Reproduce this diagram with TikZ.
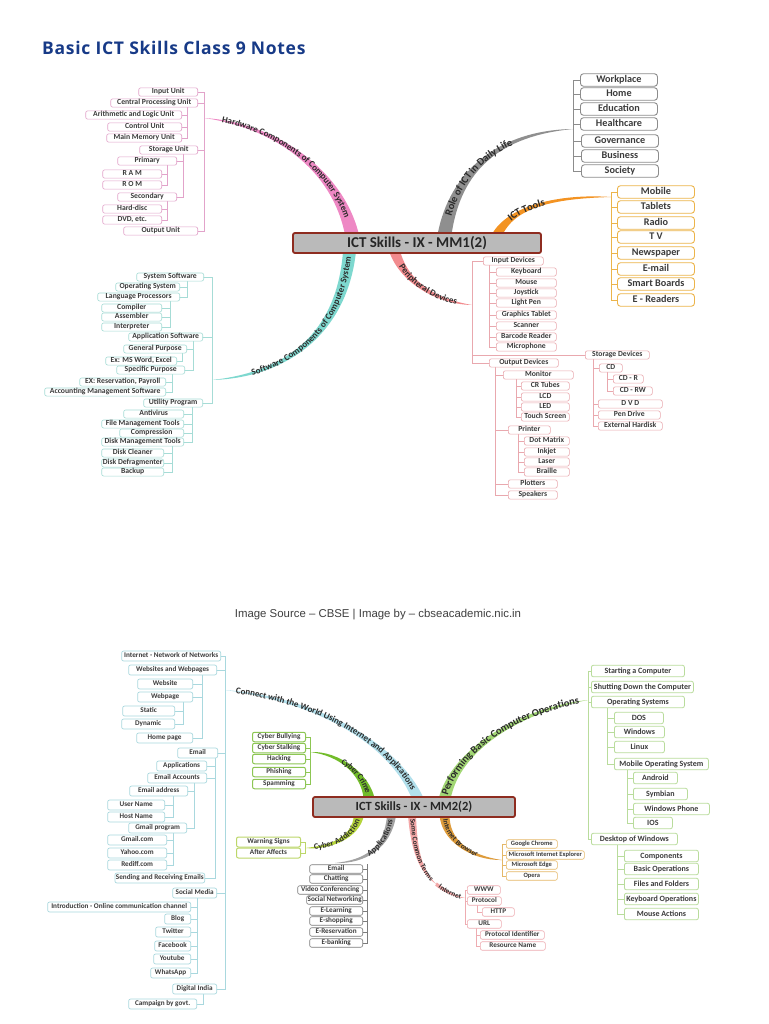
\documentclass[tikz,border=0pt]{standalone}
\usepackage{fontspec}
\setmainfont{Carlito}
\newfontfamily\headfont[LetterSpace=4]{Open Sans}
\newfontfamily\notefont{Liberation Sans}
\usetikzlibrary{calc, backgrounds, decorations.text}
\definecolor{hwpink}{HTML}{EE88C4}
\definecolor{hwline}{HTML}{E2A3CA}
\definecolor{swteal}{HTML}{7ED8CF}
\definecolor{swline}{HTML}{A6DCD6}
\definecolor{rolegray}{HTML}{8F8F8F}
\definecolor{roleline}{HTML}{8C8C8C}
\definecolor{toolorange}{HTML}{F39322}
\definecolor{toolline}{HTML}{ECB44A}
\definecolor{pdsalmon}{HTML}{F28B8E}
\definecolor{pdline}{HTML}{E9A8AE}
\definecolor{centerfill}{HTML}{BABABA}
\definecolor{centerdraw}{HTML}{8E2C20}
\definecolor{titleblue}{HTML}{173A87}
\definecolor{notegray}{HTML}{3F3F3F}
\definecolor{textmain}{HTML}{3B3B3B}
\definecolor{lbltext}{HTML}{2B2B2B}
\definecolor{cwblue}{HTML}{B2E0EC}
\definecolor{webline}{HTML}{A9D8DE}
\definecolor{crimegreen}{HTML}{72BC2A}
\definecolor{crimeline}{HTML}{8DC653}
\definecolor{opsgreen}{HTML}{A2D774}
\definecolor{opsline}{HTML}{B9DC9C}
\definecolor{addgreen}{HTML}{B4D43A}
\definecolor{addline}{HTML}{BCD769}
\definecolor{appgray}{HTML}{A3A3A3}
\definecolor{appline}{HTML}{7C7C7C}
\definecolor{termpink}{HTML}{F3A7A7}
\definecolor{termline}{HTML}{EEACB1}
\definecolor{broworange}{HTML}{DE9C3C}
\definecolor{browline}{HTML}{E5B867}
\newcommand{\boxfont}{\fontsize{7.7}{8}\selectfont\bfseries}
\newcommand{\listfont}{\fontsize{10.2}{11}\selectfont\bfseries}
\newcommand{\webfont}{\fontsize{7.2}{8}\selectfont\bfseries}
\newcommand{\opsfont}{\fontsize{8}{9}\selectfont\bfseries}
\newcommand{\browfont}{\fontsize{6.5}{7}\selectfont\bfseries}
\newcommand{\lblbig}{\fontsize{9}{10}\selectfont\bfseries\color{lbltext}}
\newcommand{\lblwide}{\fontsize{10.5}{11}\selectfont\bfseries\color{lbltext}}
\newcommand{\lblsmall}{\fontsize{8.3}{9}\selectfont\bfseries\color{lbltext}}
\newcommand{\lbltiny}{\fontsize{7.2}{8}\selectfont\bfseries\color{lbltext}}
\newcommand{\ribbon}[7]{%
  \fill[#1] ($(#2)+(#6)$) .. controls ($(#3)+0.8*(#6)$) and ($(#4)+(#7)$) .. (#5)
    .. controls ($(#4)-(#7)$) and ($(#3)-0.8*(#6)$) .. ($(#2)-(#6)$) -- cycle;}

\begin{document}
\begin{tikzpicture}[
    x=1pt, y=-1pt,
    box/.style={draw, fill=white, rounded corners=2pt, inner xsep=1pt, inner ysep=0.7pt,
                text height=5.2pt, text depth=1.5pt, minimum height=8.3pt, line width=0.6pt,
                text=textmain, font=\boxfont},
    hwbox/.style={box, draw=hwline, anchor=east, minimum width=59pt},
    swbox/.style={box, draw=swline, anchor=east, minimum height=8pt, minimum width=60pt},
    pdbox/.style={box, draw=pdline, anchor=west, minimum width=60pt},
    bigbox/.style={box, anchor=west, rounded corners=3pt, minimum width=77pt, minimum height=12.5pt,
                   text height=7pt, text depth=2pt, line width=0.9pt, font=\listfont},
    rolebox/.style={bigbox, draw=roleline},
    toolbox/.style={bigbox, draw=toolline},
    webbox/.style={box, draw=webline, anchor=east, minimum height=10pt, line width=0.7pt, font=\webfont},
    crimebox/.style={box, draw=crimeline, anchor=east, minimum height=9.5pt, minimum width=53pt,
                     line width=1pt, font=\webfont},
    addbox/.style={box, draw=addline, anchor=east, minimum height=10pt, minimum width=64pt,
                   line width=1pt, font=\webfont},
    appbox/.style={box, draw=appline, anchor=east, minimum height=8.5pt, minimum width=53pt, font=\webfont},
    termbox/.style={box, draw=termline, anchor=west, minimum height=8.5pt, font=\webfont},
    browbox/.style={box, draw=browline, anchor=west, minimum height=8.5pt, minimum width=51pt, font=\browfont},
    opsbox/.style={box, draw=opsline, anchor=west, minimum height=11.5pt, text height=5.8pt,
                   text depth=1.8pt, line width=0.8pt, font=\opsfont},
    centerbox/.style={draw=centerdraw, fill=centerfill, line width=1.8pt, rounded corners=2pt,
                      minimum height=20pt, text=black!85},
    hwlink/.style={draw=hwline, line width=0.7pt},
    swlink/.style={draw=swline, line width=0.7pt},
    pdlink/.style={draw=pdline, line width=0.7pt},
    rolelink/.style={draw=roleline, line width=0.7pt},
    toollink/.style={draw=toolline, line width=0.8pt},
    weblink/.style={draw=webline, line width=0.7pt},
    crimelink/.style={draw=crimeline, line width=0.8pt},
    addlink/.style={draw=addline, line width=0.8pt},
    applink/.style={draw=appline, line width=0.7pt},
    termlink/.style={draw=termline, line width=0.7pt},
    browlink/.style={draw=browline, line width=0.7pt},
    opslink/.style={draw=opsline, line width=0.7pt},
    lbl/.style n args={3}{decorate, decoration={text along path, text={#1}, text align={#2}, raise=#3}}
  ]
    \useasboundingbox (0,0) rectangle (768,1024);

    \node[anchor=west, inner sep=0pt, text=titleblue, font=\headfont\fontsize{17.5}{19}\selectfont\bfseries] (title) at (42,47.5) {Basic ICT Skills Class 9 Notes};
    \node[centerbox, minimum width=248pt, font=\fontsize{15}{16}\selectfont\bfseries] (mm1) at (417,243) {ICT Skills - IX - MM1(2)};

    \node[hwbox] (inunit) at (198,92) {Input Unit};
    \node[hwbox, minimum width=87pt] (cpu) at (198,103) {Central Processing Unit};
    \node[hwbox, minimum width=96pt] (alu) at (182,115) {Arithmetic and Logic Unit};
    \node[hwbox, minimum width=74pt] (ctrlunit) at (182,127) {Control Unit};
    \node[hwbox, minimum width=75pt] (memunit) at (182,138) {Main Memory Unit};
    \node[hwbox, minimum width=58pt] (storunit) at (198,150) {Storage Unit};
    \node[hwbox] (primary) at (177,161) {Primary};
    \node[hwbox] (ram) at (162,174) {R A M};
    \node[hwbox] (rom) at (162,185) {R O M};
    \node[hwbox] (secondary) at (177,197) {Secondary};
    \node[hwbox] (harddisc) at (162,209) {Hard-disc};
    \node[hwbox] (dvdetc) at (162,220) {DVD, etc.};
    \node[hwbox, minimum width=74pt] (outunit) at (198,231) {Output Unit};

    \node[rolebox] (workplace) at (580,80) {Workplace};
    \node[rolebox] (home) at (580,94) {Home};
    \node[rolebox] (education) at (580,109) {Education};
    \node[rolebox] (healthcare) at (580,124) {Healthcare};
    \node[rolebox] (governance) at (581,141) {Governance};
    \node[rolebox] (business) at (581,156) {Business};
    \node[rolebox] (society) at (581,171) {Society};

    \node[toolbox] (mobile) at (617,192) {Mobile};
    \node[toolbox] (tablets) at (617,207) {Tablets};
    \node[toolbox] (radio) at (617,223) {Radio};
    \node[toolbox] (tv) at (617,237) {T V};
    \node[toolbox] (newspaper) at (617,253) {Newspaper};
    \node[toolbox] (emailtool) at (617,269) {E-mail};
    \node[toolbox] (smartboards) at (617,284) {Smart Boards};
    \node[toolbox] (ereaders) at (617,300) {E - Readers};

    \node[swbox, minimum width=67pt] (syssw) at (204,277) {System Software};
    \node[swbox, minimum width=64pt] (opsystem) at (180,287) {Operating System};
    \node[swbox, minimum width=82pt] (langproc) at (180,297) {Language Processors};
    \node[swbox] (compiler) at (162,308) {Compiler};
    \node[swbox] (assembler) at (162,317) {Assembler};
    \node[swbox] (interpreter) at (162,327) {Interpreter};
    \node[swbox, minimum width=74pt] (appsw) at (203,337) {Application Software};
    \node[swbox, minimum width=63pt] (genpurpose) at (187,349) {General Purpose};
    \node[swbox, minimum width=71pt] (exword) at (177,361) {Ex: MS Word, Excel};
    \node[swbox, minimum width=68pt] (specpurpose) at (185,370) {Specific Purpose};
    \node[swbox, minimum width=86pt] (exreserve) at (166,382) {EX: Reservation, Payroll};
    \node[swbox, minimum width=121pt] (accsw) at (166,392) {Accounting Management Software};
    \node[swbox, minimum width=59pt] (utility) at (203,403) {Utility Program};
    \node[swbox] (antivirus) at (184,414) {Antivirus};
    \node[swbox, minimum width=82pt] (filetools) at (184,424) {File Management Tools};
    \node[swbox, minimum width=64pt] (compression) at (184,433) {Compression};
    \node[swbox, minimum width=82pt] (disktools) at (184,442) {Disk Management Tools};
    \node[swbox, minimum width=62pt] (diskclean) at (164,453) {Disk Cleaner};
    \node[swbox, minimum width=62pt] (defrag) at (164,463) {Disk Defragmenter};
    \node[swbox, minimum width=62pt] (backup) at (164,472) {Backup};

    \node[pdbox] (indevices) at (483,261) {Input Devices};
    \node[pdbox] (keyboard) at (496,272) {Keyboard};
    \node[pdbox] (mouse) at (496,283) {Mouse};
    \node[pdbox] (joystick) at (496,293) {Joystick};
    \node[pdbox] (lightpen) at (496,303) {Light Pen};
    \node[pdbox] (gtablet) at (496,315) {Graphics Tablet};
    \node[pdbox] (scanner) at (496,326) {Scanner};
    \node[pdbox] (barcode) at (496,337) {Barcode Reader};
    \node[pdbox] (microphone) at (496,347) {Microphone};
    \node[pdbox, minimum width=69pt] (outdevices) at (489,363) {Output Devices};
    \node[pdbox, minimum width=70pt] (monitor) at (503,375) {Monitor};
    \node[pdbox, minimum width=48pt] (crtubes) at (521,386) {CR Tubes};
    \node[pdbox, minimum width=48pt] (lcd) at (521,397) {LCD};
    \node[pdbox, minimum width=48pt] (led) at (521,407) {LED};
    \node[pdbox, minimum width=48pt] (touchscreen) at (521,417) {Touch Screen};
    \node[pdbox, minimum width=42pt] (printer) at (508,430) {Printer};
    \node[pdbox, minimum width=45pt] (dotmatrix) at (524,441) {Dot Matrix};
    \node[pdbox, minimum width=45pt] (inkjet) at (524,452) {Inkjet};
    \node[pdbox, minimum width=45pt] (laser) at (524,462) {Laser};
    \node[pdbox, minimum width=45pt] (braille) at (524,472) {Braille};
    \node[pdbox, minimum width=49pt] (plotters) at (508,484) {Plotters};
    \node[pdbox, minimum width=49pt] (speakers) at (508,495) {Speakers};
    \node[pdbox, minimum width=64pt] (stordevices) at (585,355) {Storage Devices};
    \node[pdbox, minimum width=23pt] (cd) at (599,368) {CD};
    \node[pdbox, minimum width=30pt] (cdr) at (613,379) {CD - R};
    \node[pdbox, minimum width=39pt] (cdrw) at (613,391) {CD - RW};
    \node[pdbox, minimum width=64pt] (dvd) at (598,404) {D V D};
    \node[pdbox, minimum width=62pt] (pendrive) at (598,415) {Pen Drive};
    \node[pdbox, minimum width=64pt] (exthd) at (598,426) {External Hardisk};

    \node[text=notegray, font=\notefont\fontsize{11.4}{13}\selectfont] (source) at (378,615) {Image Source – CBSE | Image by – cbseacademic.nic.in};
    \node[centerbox, minimum width=202pt, font=\fontsize{12.5}{14}\selectfont\bfseries] (mm2) at (414,807) {ICT Skills - IX - MM2(2)};

    \node[webbox, minimum width=99pt] (internet) at (221,656) {Internet - Network of Networks};
    \node[webbox, minimum width=88pt] (websites) at (217,670) {Websites and Webpages};
    \node[webbox, minimum width=55pt] (website) at (193,684) {Website};
    \node[webbox, minimum width=55pt] (webpage) at (193,697) {Webpage};
    \node[webbox, minimum width=52pt] (static) at (175,711) {Static};
    \node[webbox, minimum width=53pt] (dynamic) at (175,724) {Dynamic};
    \node[webbox, minimum width=56pt] (homepage) at (193,738) {Home page};
    \node[webbox, minimum width=40pt] (email) at (218,753) {Email};
    \node[webbox, minimum width=50pt] (applications) at (207,766) {Applications};
    \node[webbox, minimum width=59pt] (emailacc) at (207,778) {Email Accounts};
    \node[webbox, minimum width=58pt] (emailaddr) at (188,791) {Email address};
    \node[webbox, minimum width=57pt] (username) at (165,805) {User Name};
    \node[webbox, minimum width=57pt] (hostname) at (165,817) {Host Name};
    \node[webbox, minimum width=58pt] (gmailprog) at (187,828) {Gmail program};
    \node[webbox, minimum width=59pt] (gmail) at (167,840) {Gmail.com};
    \node[webbox, minimum width=59pt] (yahoo) at (167,853) {Yahoo.com};
    \node[webbox, minimum width=59pt] (rediff) at (167,865) {Rediff.com};
    \node[webbox, minimum width=86pt] (sendrecv) at (205,878) {Sending and Receiving Emails};
    \node[webbox, minimum width=44pt] (socialmedia) at (217,893) {Social Media};
    \node[webbox, minimum width=143pt] (intro) at (191,907) {Introduction - Online communication channel};
    \node[webbox, minimum width=26pt] (blog) at (191,919) {Blog};
    \node[webbox, minimum width=35pt] (twitter) at (191,932) {Twitter};
    \node[webbox, minimum width=36pt] (facebook) at (191,946) {Facebook};
    \node[webbox, minimum width=37pt] (youtube) at (191,959) {Youtube};
    \node[webbox, minimum width=40pt] (whatsapp) at (191,973) {WhatsApp};
    \node[webbox, minimum width=44pt] (digitalindia) at (217,989) {Digital India};
    \node[webbox, minimum width=68pt] (campaign) at (197,1004) {Campaign by govt.};

    \node[crimebox] (bullying) at (306,737) {Cyber Bullying};
    \node[crimebox] (stalking) at (306,748) {Cyber Stalking};
    \node[crimebox] (hacking) at (306,759) {Hacking};
    \node[crimebox] (phishing) at (306,772) {Phishing};
    \node[crimebox] (spamming) at (306,784) {Spamming};

    \node[addbox] (warning) at (301,842) {Warning Signs};
    \node[addbox] (aftereffects) at (301,853) {After Affects};

    \node[appbox] (appemail) at (363,869) {Email};
    \node[appbox] (chatting) at (363,879) {Chatting};
    \node[appbox, minimum width=65pt] (videoconf) at (363,890) {Video Conferencing};
    \node[appbox, minimum width=56pt] (socialnet) at (363,900) {Social Networking};
    \node[appbox] (elearning) at (363,911) {E-Learning};
    \node[appbox] (eshopping) at (363,921) {E-shopping};
    \node[appbox] (ereservation) at (363,932) {E-Reservation};
    \node[appbox] (ebanking) at (363,943) {E-banking};

    \node[termbox, minimum width=33pt] (www) at (467,890) {WWW};
    \node[termbox, minimum width=34pt] (protocol) at (467,901) {Protocol};
    \node[termbox, minimum width=32pt] (http) at (482,912) {HTTP};
    \node[termbox, minimum width=34pt] (url) at (467,924) {URL};
    \node[termbox, minimum width=64pt] (protid) at (480,935) {Protocol Identifier};
    \node[termbox, minimum width=65pt] (resname) at (480,946) {Resource Name};

    \node[browbox] (chrome) at (506,844) {Google Chrome};
    \node[browbox, minimum width=78pt] (explorer) at (506,855) {Microsoft Internet Explorer};
    \node[browbox] (edge) at (506,865) {Microsoft Edge};
    \node[browbox] (opera) at (506,876) {Opera};

    \node[opsbox, minimum width=93pt] (startpc) at (591,671) {Starting a Computer};
    \node[opsbox, minimum width=102pt] (shutpc) at (591,687) {Shutting Down the Computer};
    \node[opsbox, minimum width=93pt] (opsystems) at (591,702) {Operating Systems};
    \node[opsbox, minimum width=49pt] (dos) at (614,718) {DOS};
    \node[opsbox, minimum width=50pt] (windows) at (614,732) {Windows};
    \node[opsbox, minimum width=50pt] (linux) at (614,747) {Linux};
    \node[opsbox, minimum width=94pt] (mobileos) at (614,764) {Mobile Operating System};
    \node[opsbox, minimum width=44pt] (android) at (633,778) {Android};
    \node[opsbox, minimum width=54pt] (symbian) at (633,794) {Symbian};
    \node[opsbox, minimum width=76pt] (winphone) at (633,809) {Windows Phone};
    \node[opsbox, minimum width=39pt] (ios) at (633,823) {IOS};
    \node[opsbox, minimum width=86pt] (desktop) at (591,839) {Desktop of Windows};
    \node[opsbox, minimum width=74pt] (components) at (624,856) {Components};
    \node[opsbox, minimum width=74pt] (basicops) at (624,869) {Basic Operations};
    \node[opsbox, minimum width=74pt] (folders) at (624,884) {Files and Folders};
    \node[opsbox, minimum width=74pt] (kbops) at (624,899) {Keyboard Operations};
    \node[opsbox, minimum width=74pt] (mouseact) at (624,914) {Mouse Actions};

    \coordinate (hwroot) at (204,118);
    \coordinate (roleroot) at (573,129);
    \coordinate (toolroot) at (611,197);
    \coordinate (swroot) at (212,380);
    \coordinate (pdroot) at (472,305);
    \coordinate (cwroot) at (225,690);
    \coordinate (crimeroot) at (310,752);
    \coordinate (opsroot) at (588,700);
    \coordinate (addroot) at (305,848);
    \coordinate (approot) at (367,864);
    \coordinate (append) at (335,863);
    \coordinate (termmid) at (436,884);
    \coordinate (termroot) at (465,898);
    \coordinate (browroot) at (502,860);
    \coordinate (hwS) at ($(mm1.north west)!0.24!(mm1.north east)+(0,3)$);
    \coordinate (roleS) at ($(mm1.north west)!0.61!(mm1.north east)+(0,3)$);
    \coordinate (toolS) at ($(mm1.north west)!0.82!(mm1.north east)+(0,3)$);
    \coordinate (swS) at ($(mm1.south west)!0.23!(mm1.south east)+(0,-3)$);
    \coordinate (pdS) at ($(mm1.south west)!0.41!(mm1.south east)+(0,-3)$);
    \coordinate (cwS) at ($(mm2.north west)!0.52!(mm2.north east)+(0,3)$);
    \coordinate (crimeS) at ($(mm2.north west)!0.28!(mm2.north east)+(0,3)$);
    \coordinate (opsS) at ($(mm2.north west)!0.65!(mm2.north east)+(0,3)$);
    \coordinate (addS) at ($(mm2.south west)!0.23!(mm2.south east)+(0,-3)$);
    \coordinate (appS) at ($(mm2.south west)!0.39!(mm2.south east)+(0,-3)$);
    \coordinate (termS) at ($(mm2.south west)!0.49!(mm2.south east)+(0,-3)$);
    \coordinate (browS) at ($(mm2.south west)!0.65!(mm2.south east)+(0,-3)$);

    \begin{scope}[on background layer]
    \fill[white] (0,0) rectangle (768,1024);

    \ribbon{hwpink}{hwS}{338,170}{275,125}{hwroot}{7,0}{0,-3}
    \ribbon{rolegray}{roleS}{455,170}{500,133}{roleroot}{7,0}{0,3}
    \ribbon{toolorange}{toolS}{512,205}{560,196}{toolroot}{5.5,0}{0,2.5}
    \ribbon{swteal}{swS}{342,335}{285,375}{swroot}{6.5,0}{0,3}
    \ribbon{pdsalmon}{pdS}{405,285}{440,302}{pdroot}{5.5,0}{0,-2.5}
    \ribbon{cwblue}{cwS}{395,745}{320,700}{cwroot}{6,0}{0,-3}
    \ribbon{crimegreen}{crimeS}{366,775}{340,753}{crimeroot}{5.5,0}{0,-2.5}
    \ribbon{opsgreen}{opsS}{455,750}{520,710}{opsroot}{6,0}{0,3}
    \ribbon{addgreen}{addS}{356,838}{330,848}{addroot}{5,0}{0,2.5}
    \ribbon{appgray}{appS}{388,848}{365,862}{append}{4.5,0}{0,2.2}
    \ribbon{termpink}{termS}{414,850}{420,870}{termmid}{4,0}{1.5,-1.5}
    \ribbon{termpink}{termmid}{446,892}{456,897}{termroot}{0.8,-1.6}{0.3,-1}
    \ribbon{broworange}{browS}{445,840}{470,858}{browroot}{5,0}{0,-2.5}

    \path[lbl={|\lblbig|Hardware Components of Computer System}{center}{-2.2pt}] (hwroot) .. controls (275,125) and (338,170) .. (hwS);
    \path[lbl={|\lblwide|Role of ICT in Daily Life}{left, left indent=20pt}{-2.5pt}] (roleS) .. controls (455,170) and (500,133) .. (roleroot);
    \path[lbl={|\lblwide|ICT Tools}{left, left indent=20pt}{-2.5pt}] (toolS) .. controls (512,205) and (560,196) .. (toolroot);
    \path[lbl={|\lblbig|Software Components of Computer System}{right, right indent=6pt}{-2.2pt}] (swroot) .. controls (285,375) and (342,335) .. (swS);
    \path[lbl={|\lblbig|Peripheral Devices}{center}{-2.2pt}] (pdS) .. controls (405,285) and (440,302) .. (pdroot);
    \path[lbl={|\lblbig|Connect with the World Using Internet and Applications}{center}{-2.2pt}] (cwroot) .. controls (320,700) and (395,745) .. (cwS);
    \path[lbl={|\lblwide|Performing Basic Computer Operations}{left, left indent=4pt}{-2.5pt}] (opsS) .. controls (455,750) and (520,710) .. (opsroot);
    \path[lbl={|\lblsmall|Cyber Crime}{right, right indent=6pt}{-2pt}] (crimeroot) .. controls (340,753) and (366,775) .. (crimeS);
    \path[lbl={|\lblsmall|Cyber Addiction}{right, right indent=5pt}{-2pt}] (addroot) .. controls (330,848) and (356,838) .. (addS);
    \path[lbl={|\lblsmall|Applications}{right, right indent=5pt}{-2pt}] (append) .. controls (365,862) and (388,848) .. (appS);
    \path[lbl={|\lbltiny|Some Common Terms}{left, left indent=4pt}{-1.8pt}] (termS) .. controls (414,850) and (420,870) .. (termmid);
    \path[lbl={|\lbltiny|Internet}{center}{-1.8pt}] (termmid) .. controls (446,892) and (456,897) .. (termroot);
    \path[lbl={|\lbltiny|Internet Browser}{left, left indent=4pt}{-1.8pt}] (browS) .. controls (445,840) and (470,858) .. (browroot);

    \draw[hwlink] (inunit.east) -| (hwroot);
    \draw[hwlink] (cpu.east) -| (hwroot);
    \draw[hwlink] (storunit.east) -| (hwroot);
    \draw[hwlink] (outunit.east) -| (hwroot);
    \draw[hwlink] (alu.east) -- ++(5,0) |- (cpu);
    \draw[hwlink] (ctrlunit.east) -- ++(5,0) |- (cpu);
    \draw[hwlink] (memunit.east) -- ++(5,0) |- (cpu);
    \draw[hwlink] (primary.east) -- ++(6,0) |- (storunit);
    \draw[hwlink] (secondary.east) -- ++(6,0) |- (storunit);
    \draw[hwlink] (ram.east) -- ++(5,0) |- (primary);
    \draw[hwlink] (rom.east) -- ++(5,0) |- (primary);
    \draw[hwlink] (harddisc.east) -- ++(5,0) |- (secondary);
    \draw[hwlink] (dvdetc.east) -- ++(5,0) |- (secondary);

    \draw[rolelink] (workplace.west) -| (roleroot);
    \draw[rolelink] (home.west) -| (roleroot);
    \draw[rolelink] (education.west) -| (roleroot);
    \draw[rolelink] (healthcare.west) -| (roleroot);
    \draw[rolelink] (governance.west) -| (roleroot);
    \draw[rolelink] (business.west) -| (roleroot);
    \draw[rolelink] (society.west) -| (roleroot);

    \draw[toollink] (mobile.west) -| (toolroot);
    \draw[toollink] (tablets.west) -| (toolroot);
    \draw[toollink] (radio.west) -| (toolroot);
    \draw[toollink] (tv.west) -| (toolroot);
    \draw[toollink] (newspaper.west) -| (toolroot);
    \draw[toollink] (emailtool.west) -| (toolroot);
    \draw[toollink] (smartboards.west) -| (toolroot);
    \draw[toollink] (ereaders.west) -| (toolroot);

    \draw[swlink] (syssw.east) -| (swroot);
    \draw[swlink] (appsw.east) -| (swroot);
    \draw[swlink] (utility.east) -| (swroot);
    \draw[swlink] (opsystem.east) -- ++(7,0) |- (syssw);
    \draw[swlink] (langproc.east) -- ++(7,0) |- (syssw);
    \draw[swlink] (compiler.east) -- ++(8,0) |- (langproc);
    \draw[swlink] (assembler.east) -- ++(8,0) |- (langproc);
    \draw[swlink] (interpreter.east) -- ++(8,0) |- (langproc);
    \draw[swlink] (genpurpose.east) -- ++(6,0) |- (appsw);
    \draw[swlink] (specpurpose.east) -- ++(8,0) |- (appsw);
    \draw[swlink] (exword.east) -- ++(5,0) |- (genpurpose);
    \draw[swlink] (exreserve.east) -- ++(6,0) |- (specpurpose);
    \draw[swlink] (accsw.east) -- ++(6,0) |- (specpurpose);
    \draw[swlink] (antivirus.east) -- ++(8,0) |- (utility);
    \draw[swlink] (filetools.east) -- ++(8,0) |- (utility);
    \draw[swlink] (compression.east) -- ++(8,0) |- (utility);
    \draw[swlink] (disktools.east) -- ++(8,0) |- (utility);
    \draw[swlink] (diskclean.east) -- ++(8,0) |- (disktools);
    \draw[swlink] (defrag.east) -- ++(8,0) |- (disktools);
    \draw[swlink] (backup.east) -- ++(8,0) |- (disktools);

    \draw[pdlink] (indevices.west) -| (pdroot);
    \draw[pdlink] (outdevices.west) -| (pdroot);
    \draw[pdlink] (stordevices.west) -| (pdroot);
    \draw[pdlink] (keyboard.west) -- ++(-7,0) |- (indevices);
    \draw[pdlink] (mouse.west) -- ++(-7,0) |- (indevices);
    \draw[pdlink] (joystick.west) -- ++(-7,0) |- (indevices);
    \draw[pdlink] (lightpen.west) -- ++(-7,0) |- (indevices);
    \draw[pdlink] (gtablet.west) -- ++(-7,0) |- (indevices);
    \draw[pdlink] (scanner.west) -- ++(-7,0) |- (indevices);
    \draw[pdlink] (barcode.west) -- ++(-7,0) |- (indevices);
    \draw[pdlink] (microphone.west) -- ++(-7,0) |- (indevices);
    \draw[pdlink] (monitor.west) -- ++(-8,0) |- (outdevices);
    \draw[pdlink] (printer.west) -- ++(-13,0) |- (outdevices);
    \draw[pdlink] (plotters.west) -- ++(-13,0) |- (outdevices);
    \draw[pdlink] (speakers.west) -- ++(-13,0) |- (outdevices);
    \draw[pdlink] (crtubes.west) -- ++(-5,0) |- (monitor);
    \draw[pdlink] (lcd.west) -- ++(-5,0) |- (monitor);
    \draw[pdlink] (led.west) -- ++(-5,0) |- (monitor);
    \draw[pdlink] (touchscreen.west) -- ++(-5,0) |- (monitor);
    \draw[pdlink] (dotmatrix.west) -- ++(-6,0) |- (printer);
    \draw[pdlink] (inkjet.west) -- ++(-6,0) |- (printer);
    \draw[pdlink] (laser.west) -- ++(-6,0) |- (printer);
    \draw[pdlink] (braille.west) -- ++(-6,0) |- (printer);
    \draw[pdlink] (cd.west) -- ++(-6,0) |- (stordevices);
    \draw[pdlink] (dvd.west) -- ++(-5,0) |- (stordevices);
    \draw[pdlink] (pendrive.west) -- ++(-5,0) |- (stordevices);
    \draw[pdlink] (exthd.west) -- ++(-5,0) |- (stordevices);
    \draw[pdlink] (cdr.west) -- ++(-6,0) |- (cd);
    \draw[pdlink] (cdrw.west) -- ++(-6,0) |- (cd);

    \draw[weblink] (internet.east) -| (cwroot);
    \draw[weblink] (websites.east) -| (cwroot);
    \draw[weblink] (email.east) -| (cwroot);
    \draw[weblink] (socialmedia.east) -| (cwroot);
    \draw[weblink] (digitalindia.east) -| (cwroot);
    \draw[weblink] (website.east) -- ++(9,0) |- (websites);
    \draw[weblink] (webpage.east) -- ++(9,0) |- (websites);
    \draw[weblink] (homepage.east) -- ++(9,0) |- (websites);
    \draw[weblink] (static.east) -- ++(8,0) |- (webpage);
    \draw[weblink] (dynamic.east) -- ++(8,0) |- (webpage);
    \draw[weblink] (applications.east) -- ++(8,0) |- (email);
    \draw[weblink] (emailacc.east) -- ++(8,0) |- (email);
    \draw[weblink] (sendrecv.east) -- ++(10,0) |- (email);
    \draw[weblink] (emailaddr.east) -- ++(6,0) |- (emailacc);
    \draw[weblink] (gmailprog.east) -- ++(7,0) |- (emailacc);
    \draw[weblink] (username.east) -- ++(8,0) |- (emailaddr);
    \draw[weblink] (hostname.east) -- ++(8,0) |- (emailaddr);
    \draw[weblink] (gmail.east) -- ++(6,0) |- (gmailprog);
    \draw[weblink] (yahoo.east) -- ++(6,0) |- (gmailprog);
    \draw[weblink] (rediff.east) -- ++(6,0) |- (gmailprog);
    \draw[weblink] (intro.east) -- ++(6,0) |- (socialmedia);
    \draw[weblink] (blog.east) -- ++(6,0) |- (socialmedia);
    \draw[weblink] (twitter.east) -- ++(6,0) |- (socialmedia);
    \draw[weblink] (facebook.east) -- ++(6,0) |- (socialmedia);
    \draw[weblink] (youtube.east) -- ++(6,0) |- (socialmedia);
    \draw[weblink] (whatsapp.east) -- ++(6,0) |- (socialmedia);
    \draw[weblink] (campaign.east) -- ++(6,0) |- (digitalindia);

    \draw[crimelink] (bullying.east) -| (crimeroot);
    \draw[crimelink] (stalking.east) -| (crimeroot);
    \draw[crimelink] (hacking.east) -| (crimeroot);
    \draw[crimelink] (phishing.east) -| (crimeroot);
    \draw[crimelink] (spamming.east) -| (crimeroot);

    \draw[addlink] (warning.east) -| (addroot);
    \draw[addlink] (aftereffects.east) -| (addroot);

    \draw[applink] (appemail.east) -| (approot);
    \draw[applink] (chatting.east) -| (approot);
    \draw[applink] (videoconf.east) -| (approot);
    \draw[applink] (socialnet.east) -| (approot);
    \draw[applink] (elearning.east) -| (approot);
    \draw[applink] (eshopping.east) -| (approot);
    \draw[applink] (ereservation.east) -| (approot);
    \draw[applink] (ebanking.east) -| (approot);

    \draw[termlink] (www.west) -| (termroot);
    \draw[termlink] (protocol.west) -| (termroot);
    \draw[termlink] (url.west) -| (termroot);
    \draw[termlink] (http.west) -- ++(-5,0) |- (protocol);
    \draw[termlink] (protid.west) -- ++(-4,0) |- (url);
    \draw[termlink] (resname.west) -- ++(-4,0) |- (url);

    \draw[browlink] (chrome.west) -| (browroot);
    \draw[browlink] (explorer.west) -| (browroot);
    \draw[browlink] (edge.west) -| (browroot);
    \draw[browlink] (opera.west) -| (browroot);

    \draw[opslink] (startpc.west) -| (opsroot);
    \draw[opslink] (shutpc.west) -| (opsroot);
    \draw[opslink] (opsystems.west) -| (opsroot);
    \draw[opslink] (desktop.west) -| (opsroot);
    \draw[opslink] (dos.west) -- ++(-7,0) |- (opsystems);
    \draw[opslink] (windows.west) -- ++(-7,0) |- (opsystems);
    \draw[opslink] (linux.west) -- ++(-7,0) |- (opsystems);
    \draw[opslink] (mobileos.west) -- ++(-7,0) |- (opsystems);
    \draw[opslink] (android.west) -- ++(-6,0) |- (mobileos);
    \draw[opslink] (symbian.west) -- ++(-6,0) |- (mobileos);
    \draw[opslink] (winphone.west) -- ++(-6,0) |- (mobileos);
    \draw[opslink] (ios.west) -- ++(-6,0) |- (mobileos);
    \draw[opslink] (components.west) -- ++(-7,0) |- (desktop);
    \draw[opslink] (basicops.west) -- ++(-7,0) |- (desktop);
    \draw[opslink] (folders.west) -- ++(-7,0) |- (desktop);
    \draw[opslink] (kbops.west) -- ++(-7,0) |- (desktop);
    \draw[opslink] (mouseact.west) -- ++(-7,0) |- (desktop);
    \end{scope}
  \end{tikzpicture}
\end{document}
